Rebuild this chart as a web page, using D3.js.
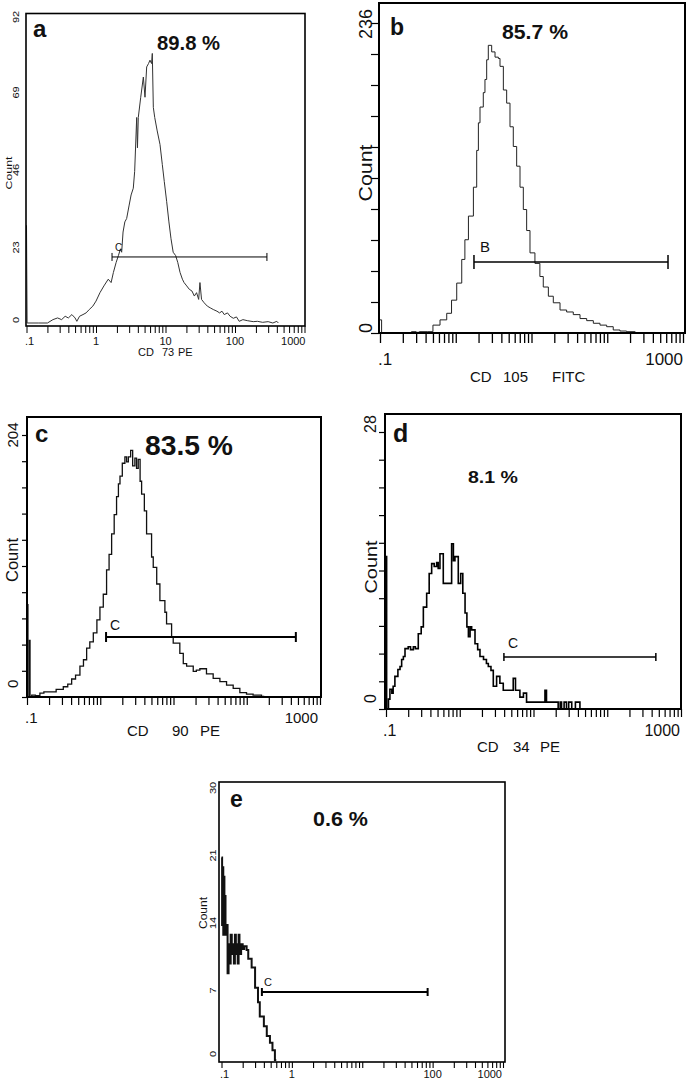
<!DOCTYPE html>
<html><head><meta charset="utf-8">
<script src="https://cdn.jsdelivr.net/npm/d3@7"></script>
<style>
body{margin:0;background:#fff}
svg{display:block}
text{font-family:"Liberation Sans",Arial,Helvetica,sans-serif;fill:#111}
</style>
</head><body>
<svg id="chart" width="691" height="1081"></svg>
<script>
// ---------- DATA (fluorescence intensity, event count) ----------
const histA = [[0.1,29],[0.102,0],[0.15,0],[0.2,0],[0.24,1],[0.28,1.5],[0.32,1],[0.36,2],[0.4,1.5],[0.45,2.5],[0.5,1.5],[0.53,0.5],[0.58,2],[0.65,2.5],[0.72,3],[0.8,4],[0.9,5],[1.0,6.5],[1.14,9],[1.3,11],[1.5,13],[1.65,12],[1.78,15],[1.95,18],[2.1,20],[2.25,22],[2.34,21],[2.45,27],[2.6,30],[2.76,31],[3.0,35],[3.2,38],[3.44,40],[3.6,45],[3.85,61],[3.95,52],[4.06,61],[4.4,67],[4.8,73],[5.07,67],[5.36,76],[5.7,77],[5.98,78],[6.3,77],[6.46,80],[6.68,64],[7.0,61],[7.6,57],[8.33,53],[9.0,47],[9.6,42],[10.4,36],[11.2,30],[12.0,25],[12.9,21],[14.0,20],[15.0,18],[16.2,15],[17.5,13],[18.5,12],[20.2,11],[22,10],[24,9.5],[26,8],[28,9],[30,7],[31.3,12],[33,7],[36,6],[40,5],[44,4.5],[48.7,4],[55,3.5],[60,3],[65,3.5],[70,2.5],[78,3],[85,2],[94.6,1.4],[105,1.8],[115,0.5],[130,1],[150,0.7],[183,0.4],[210,0.5],[250,0.2],[300,0.4],[350,0],[400,0.5],[420,0]];
const histB = [[0.1,10],[0.105,0],[0.25,0],[0.26,1],[0.3,0.5],[0.33,1],[0.42,1],[0.5,6],[0.62,10],[0.76,15],[0.88,25],[1.03,38],[1.2,56],[1.32,71],[1.47,89],[1.71,111],[1.89,139],[1.99,160],[2.09,172],[2.31,183],[2.43,193],[2.56,208],[2.69,219],[2.98,214],[3.3,210],[3.65,209],[3.84,203],[4.25,185],[4.7,175],[5.2,157],[5.75,142],[6.37,127],[7.05,111],[7.8,94],[8.63,78],[9.55,61],[11.1,53],[12.9,43],[14.3,35],[16.7,28],[19.4,23],[23.8,17.5],[29.1,16],[35.6,14],[43.7,11],[53.5,9.4],[65.5,7.4],[80.2,6],[98.2,4.8],[120,2.3],[147,1.5],[180,1],[232,0.5],[240,0]];
const histC = [[0.1,72],[0.103,0],[0.108,44],[0.11,0],[0.116,1.5],[0.13,1],[0.15,3],[0.17,4],[0.206,4],[0.25,6],[0.313,8],[0.36,10],[0.407,14],[0.46,17],[0.528,24],[0.59,29],[0.652,38],[0.72,43],[0.804,50],[0.9,60],[0.99,70],[1.1,80],[1.22,99],[1.32,111],[1.43,127],[1.55,142],[1.67,156],[1.77,166],[1.86,172],[2.0,182],[2.17,187],[2.29,183],[2.42,187],[2.6,192],[2.77,180],[2.97,186],[3.13,178],[3.3,185],[3.5,168],[3.67,158],[4.0,145],[4.29,127],[5.02,109],[5.29,101],[5.9,88],[6.52,75],[7.63,66],[8.04,57],[9.42,47],[9.91,42],[12.2,34],[13.6,26],[15.1,24],[18.6,20],[20.5,21],[22.9,22],[28.2,18],[34.8,14.5],[43,12],[53,9.3],[65.3,6.7],[80.5,3.4],[99.3,2.3],[122,1.5],[159,0.5],[170,0]];
const histD = [[0.1,15.4],[0.102,0],[0.108,1],[0.113,2],[0.12,1.6],[0.125,2.3],[0.132,3.3],[0.145,4],[0.155,4.3],[0.163,5],[0.172,5.3],[0.181,6.1],[0.2,6.3],[0.215,6],[0.235,6.3],[0.25,6.1],[0.274,7.6],[0.3,8.3],[0.321,10.3],[0.356,11.7],[0.385,13.7],[0.416,14.7],[0.45,14.4],[0.486,14.8],[0.51,14.2],[0.539,15.7],[0.598,12.7],[0.65,12.7],[0.72,12.7],[0.776,16.7],[0.82,15],[0.861,15.4],[0.955,12.7],[1.03,13.7],[1.1,11.7],[1.18,9.7],[1.25,8.3],[1.31,7.3],[1.38,8.3],[1.45,8],[1.61,6.6],[1.75,6],[1.88,5.3],[2.1,5],[2.3,4.6],[2.44,4.3],[2.65,3.9],[2.85,2.3],[3.16,3.3],[3.5,2.6],[3.89,1.9],[4.5,1.9],[5.05,1.9],[5.31,3.1],[5.7,1.9],[6.21,1.9],[6.54,1.2],[7.3,1.6],[8.05,0.7],[10,0.7],[13.6,0.7],[14.3,1.9],[15,0.7],[18,0.7],[21.6,0],[23,0.7],[24,0],[26,0.7],[28,0],[30,0.7],[33,0],[37,0.7],[42.6,0]];
const histE = [[0.1,21],[0.102,14],[0.104,20],[0.106,13],[0.108,19],[0.11,14],[0.112,17],[0.114,13],[0.118,14],[0.122,9],[0.126,12],[0.13,10],[0.135,13],[0.14,11],[0.145,12],[0.15,10],[0.155,13],[0.16,11],[0.165,12],[0.17,10],[0.175,13],[0.18,11],[0.19,12],[0.2,11.5],[0.21,11.8],[0.2276,11.4],[0.24,10.5],[0.268,9.6],[0.3,7.5],[0.33,6],[0.35,4.5],[0.372,4.5],[0.4,3.5],[0.44,2.5],[0.488,1.8],[0.53,1],[0.574,0],[0.6,0]];

// gates: [low, high, level]
const gateA = [1.70, 288, 19.6];
const gateB = [1.74, 634, 54];
const gateC = [1.20, 468, 46.7];
const gateD = [3.97, 456, 5.26];
const gateE = [0.375, 84.9, 7.05];
const gateNames = ["C", "B", "C", "C", "C"];

const pctLabels = ["89.8 %", "85.7 %", "83.5 %", "8.1 %", "0.6 %"];
const panelLetters = ["a", "b", "c", "d", "e"];

const yTicksA = [0, 23, 46, 69, 92];
const yTicksB = [0, 236];
const yTicksC = [0, 204];
const yTicksD = [0, 28];
const yTicksE = [0, 7, 14, 21, 28];
const yLabelsE = ["0", "7", "14", "21", "30"];

const xTicksA = [0.1, 1, 10, 100, 1000];
const xLabelsA = [".1", "1", "10", "100", "1000"];
const xTicksB = [0.1, 1000];
const xLabelsB = [".1", "1000"];
const xTicksE = [0.1, 1, 100, 1000];
const xLabelsE = [".1", "1", "100", "1000"];

const titleA = ["CD", "73", "PE"];
const titleB = ["CD", "105", "FITC"];
const titleC = ["CD", "90", "PE"];
const titleD = ["CD", "34", "PE"];

// ---------- DRAWING ----------
const svg = d3.select("#chart");

function panel(o) {
  const g = svg.append("g");
  const x = d3.scaleLog().domain([0.1, 1000]).range([o.x0, o.x1]);
  const y = d3.scaleLinear().domain([0, o.ymax]).range([o.y0, o.y1]);

  // curve
  const line = d3.line().x(d => x(d[0])).y(d => y(d[1])).curve(o.curve);
  g.append("path").datum(o.data).attr("d", line)
    .attr("fill", "none").attr("stroke", o.lc).attr("stroke-width", o.lw)
    .attr("stroke-linejoin", "miter");

  // frame
  g.append("rect").attr("x", o.fl).attr("y", o.ft)
    .attr("width", o.fr - o.fl).attr("height", o.fb - o.ft)
    .attr("fill", "none").attr("stroke", "#000").attr("stroke-width", o.fw);

  // x ticks
  const ax = d3.axisBottom(x).tickValues(x.ticks()).tickSize(o.tl).tickFormat("");
  const ga = g.append("g").attr("transform", `translate(0,${o.fb})`).call(ax);
  ga.select(".domain").remove();
  ga.selectAll("line").attr("stroke", "#000").attr("stroke-width", o.tw);

  // y ticks
  if (o.ytl) {
    const ay = d3.axisLeft(y).tickValues(d3.range(11).map(i => o.ymax * i / 10)).tickSize(o.ytl).tickFormat("");
    const gy = g.append("g").attr("transform", `translate(${o.fl},0)`).call(ay);
    gy.select(".domain").remove();
    gy.selectAll("line").attr("stroke", "#000").attr("stroke-width", 1.2);
  }

  // x tick labels
  o.xt.forEach((v, i) => {
    let anchor = "middle", px = x(v);
    if (i === 0) { anchor = "start"; px = x(v) + o.xlStart; }
    if (i === o.xt.length - 1 && v === 1000) { anchor = "end"; px = x(v) + o.xlEnd; }
    g.append("text").attr("x", px).attr("y", o.xlY).attr("text-anchor", anchor)
      .attr("font-size", o.xlf).attr("fill", "#111").text(o.xl[i]);
  });

  // y tick labels (rotated, optionally compressed across)
  o.yt.forEach((v, i) => {
    const spec = o.ylPos(v, y(v));
    g.append("text").attr("transform", `translate(${o.ylX},${spec[0]}) rotate(-90) scale(1,${o.ylk || 1})`)
      .attr("text-anchor", spec[1]).attr("font-size", o.ylf).text(o.yl ? o.yl[i] : String(v));
  });

  // Count
  const ct = g.append("text").attr("transform", `translate(${o.cX},${o.cY}) rotate(-90) scale(1,${o.ck || 1})`)
    .attr("text-anchor", "middle").attr("font-size", o.cf).text("Count");
  if (o.cL) ct.attr("textLength", o.cL).attr("lengthAdjust", "spacingAndGlyphs");

  // x title
  if (o.title) {
    o.title.forEach((t, i) => {
      g.append("text").attr("x", o.titleX[i]).attr("y", o.titleY)
        .attr("font-size", o.titlef).text(t);
    });
  }

  // panel letter
  g.append("text").attr("x", o.letX).attr("y", o.letY).attr("font-size", o.letf)
    .attr("font-weight", "bold").attr("fill", "#000").text(o.letter);

  // percent
  g.append("text").attr("x", o.pX).attr("y", o.pY).attr("font-size", o.pf)
    .attr("font-weight", "bold").attr("fill", "#000")
    .attr("textLength", o.pL).attr("lengthAdjust", "spacingAndGlyphs").text(o.pct);

  // gate
  const [lo, hi, lev] = o.gate;
  const gy0 = y(lev);
  const gg = g.append("g").attr("stroke", "#000").attr("stroke-width", o.gw);
  gg.append("line").attr("x1", x(lo)).attr("x2", x(hi)).attr("y1", gy0).attr("y2", gy0);
  gg.append("line").attr("x1", x(lo)).attr("x2", x(lo)).attr("y1", gy0 - o.gc).attr("y2", gy0 + o.gc);
  gg.append("line").attr("x1", x(hi)).attr("x2", x(hi)).attr("y1", gy0 - o.gc).attr("y2", gy0 + o.gc);
  g.append("text").attr("x", x(lo) + o.gnDx).attr("y", gy0 + o.gnDy)
    .attr("font-size", o.gnf).text(o.gname);
}

panel({
  data: histA, curve: d3.curveLinear, lc: "#333", lw: 1,
  x0: 26.5, x1: 304.5, y0: 323, y1: 13, ymax: 92,
  fl: 26, ft: 13.5, fr: 305, fb: 326, fw: 1.6, tl: 7, tw: 1, ytl: 0,
  xt: xTicksA, xl: xLabelsA, xlY: 345, xlf: 11, xlStart: -1.5, xlEnd: 1,
  yt: yTicksA, ylX: 19, ylf: 11, ylk: 0.75,
  ylPos: (v, py) => v === 0 ? [py, "start"] : [Math.max(py + 2, 17), "middle"],
  cX: 12, cY: 173, cf: 12, ck: 0.8, cL: 33,
  title: titleA, titleX: [138, 162, 178], titleY: 356, titlef: 11,
  letter: panelLetters[0], letX: 33, letY: 37, letf: 24,
  pct: pctLabels[0], pX: 157, pY: 50, pf: 20, pL: 63,
  gate: gateA, gc: 4, gw: 1, gname: gateNames[0], gnDx: 3, gnDy: -6, gnf: 10
});

panel({
  data: histB, curve: d3.curveStepAfter, lc: "#222", lw: 1,
  x0: 380, x1: 683, y0: 333, y1: 23, ymax: 236,
  fl: 379, ft: 3, fr: 685, fb: 333, fw: 2, tl: 10, tw: 1.3, ytl: 8,
  xt: xTicksB, xl: xLabelsB, xlY: 365, xlf: 17, xlStart: -2, xlEnd: 0,
  yt: yTicksB, ylX: 372, ylf: 18,
  ylPos: (v, py) => v === 0 ? [py, "start"] : [py + 1, "middle"],
  cX: 372, cY: 173, cf: 18, cL: 57,
  title: titleB, titleX: [470, 503, 552], titleY: 382, titlef: 15,
  letter: panelLetters[1], letX: 390, letY: 35, letf: 23,
  pct: pctLabels[1], pX: 502, pY: 39, pf: 20, pL: 66,
  gate: gateB, gc: 7, gw: 1.5, gname: gateNames[1], gnDx: 6, gnDy: -10, gnf: 15
});

panel({
  data: histC, curve: d3.curveStepAfter, lc: "#111", lw: 1.3,
  x0: 27, x1: 320, y0: 697, y1: 435, ymax: 204,
  fl: 27, ft: 417, fr: 321, fb: 697, fw: 2, tl: 8, tw: 1.2, ytl: 5,
  xt: xTicksB, xl: xLabelsB, xlY: 723, xlf: 15, xlStart: -2, xlEnd: -2,
  yt: yTicksC, ylX: 18, ylf: 15,
  ylPos: (v, py) => v === 0 ? [py - 9, "start"] : [py, "middle"],
  cX: 18, cY: 560, cf: 16, cL: 44,
  title: titleC, titleX: [127, 172, 200], titleY: 736, titlef: 15,
  letter: panelLetters[2], letX: 35, letY: 442, letf: 24,
  pct: pctLabels[2], pX: 145, pY: 455, pf: 27, pL: 88,
  gate: gateC, gc: 5, gw: 2, gname: gateNames[2], gnDx: 4, gnDy: -7, gnf: 14
});

panel({
  data: histD, curve: d3.curveStepAfter, lc: "#000", lw: 1.6,
  x0: 386, x1: 681, y0: 709, y1: 432, ymax: 28,
  fl: 385, ft: 414, fr: 681, fb: 709, fw: 2, tl: 8, tw: 1.2, ytl: 6,
  xt: xTicksB, xl: xLabelsB, xlY: 736, xlf: 16, xlStart: -3, xlEnd: -1,
  yt: yTicksD, ylX: 376, ylf: 16,
  ylPos: (v, py) => v === 0 ? [py - 6, "start"] : [py + 1, "start"],
  cX: 377, cY: 567, cf: 17, cL: 53,
  title: titleD, titleX: [477, 513, 540], titleY: 752, titlef: 15,
  letter: panelLetters[3], letX: 393, letY: 442, letf: 25,
  pct: pctLabels[3], pX: 468, pY: 483, pf: 17, pL: 50,
  gate: gateD, gc: 4, gw: 1.5, gname: gateNames[3], gnDx: 4, gnDy: -9, gnf: 14
});

panel({
  data: histE, curve: d3.curveStepAfter, lc: "#111", lw: 2,
  x0: 221.5, x1: 503, y0: 1060, y1: 790, ymax: 28,
  fl: 219, ft: 782, fr: 505, fb: 1062, fw: 1.6, tl: 6, tw: 1.1, ytl: 0,
  xt: xTicksE, xl: xLabelsE, xlY: 1078, xlf: 11, xlStart: -1.5, xlEnd: -1,
  yt: yTicksE, yl: yLabelsE, ylX: 215.5, ylf: 11, ylk: 0.75,
  ylPos: (v, py) => v === 0 ? [py - 3, "start"] : [py - 2, "middle"],
  cX: 207, cY: 913, cf: 13, ck: 0.85, cL: 32,
  title: null,
  letter: panelLetters[4], letX: 230, letY: 807, letf: 23,
  pct: pctLabels[4], pX: 313, pY: 826, pf: 20, pL: 55,
  gate: gateE, gc: 4, gw: 2, gname: gateNames[4], gnDx: 2, gnDy: -6, gnf: 11
});
</script>
</body></html>
